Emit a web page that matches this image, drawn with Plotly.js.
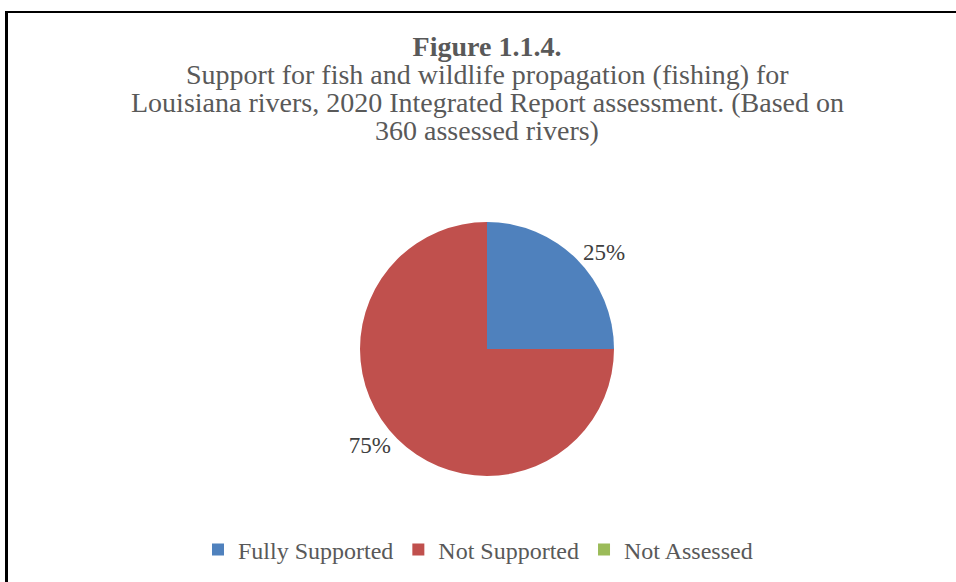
<!DOCTYPE html>
<html>
<head>
<meta charset="utf-8">
<script src="https://cdn.plot.ly/plotly-3.0.1.min.js"></script>
<style>
  html, body { margin: 0; padding: 0; background: #fff; }
  #wrap { position: relative; width: 956px; height: 582px; overflow: hidden; }
  #chart { position: absolute; left: 0; top: 0; width: 956px; height: 582px; }
  #frame { position: absolute; left: 5px; top: 11px; width: 1000px; height: 1000px;
           border-left: 3px solid #000; border-top: 2px solid #000; pointer-events: none; }
</style>
</head>
<body>
<div id="wrap">
  <div id="chart"></div>
  <div id="frame"></div>
</div>
<script>
const categories = ["Fully Supported", "Not Supported", "Not Assessed"];
const values = [90, 270, 0];
const colors = ["#4F81BD", "#C0504D", "#9BBB59"];
const titleMain = "Figure 1.1.4.";
const subtitleLines = [
  "Support for fish and wildlife propagation (fishing) for",
  "Louisiana rivers, 2020 Integrated Report assessment. (Based on",
  "360 assessed rivers)"
];

const total = values.reduce((a, b) => a + b, 0);
const labelsText = values.map(v => v > 0 ? Math.round(v / total * 100) + "%" : "");

const W = 956, H = 582;
const cx = 487, cy = 349, r = 127;
const FONT = "Liberation Serif, Times New Roman, serif";
const lineY = [75, 102.5, 130];

const data = [{
  type: "pie",
  labels: categories,
  values: values,
  marker: { colors: colors, line: { width: 0 } },
  sort: false,
  direction: "clockwise",
  rotation: 0,
  text: labelsText,
  textinfo: "text",
  textposition: "outside",
  outsidetextfont: { family: FONT, size: 23, color: "#404040" },
  hoverinfo: "none",
  showlegend: true,
  domain: {
    x: [(cx - r) / W, (cx + r) / W],
    y: [(H - cy - r) / H, (H - cy + r) / H]
  }
}];

const annotations = subtitleLines.map((t, i) => ({
  text: t,
  xref: "paper", yref: "paper",
  x: 487 / W, xanchor: "center",
  y: 1 - lineY[i] / H, yanchor: "middle",
  showarrow: false,
  font: { family: FONT, size: 28, color: "#595959" }
}));

const layout = {
  width: W, height: H,
  margin: { l: 0, r: 0, t: 0, b: 0 },
  paper_bgcolor: "#ffffff",
  font: { family: FONT, color: "#595959" },
  title: {
    text: "<b>" + titleMain + "</b>",
    font: { family: FONT, size: 28, color: "#595959" },
    x: 487 / W, xanchor: "center",
    y: 1 - 46 / H, yanchor: "middle"
  },
  annotations: annotations,
  legend: {
    orientation: "h",
    x: 0.5, xanchor: "center",
    y: (H - 550) / H, yanchor: "middle",
    font: { family: FONT, size: 24, color: "#595959" },
    itemclick: false, itemdoubleclick: false,
    traceorder: "normal"
  }
};

Plotly.newPlot("chart", data, layout, { staticPlot: true, displayModeBar: false });
</script>
</body>
</html>
